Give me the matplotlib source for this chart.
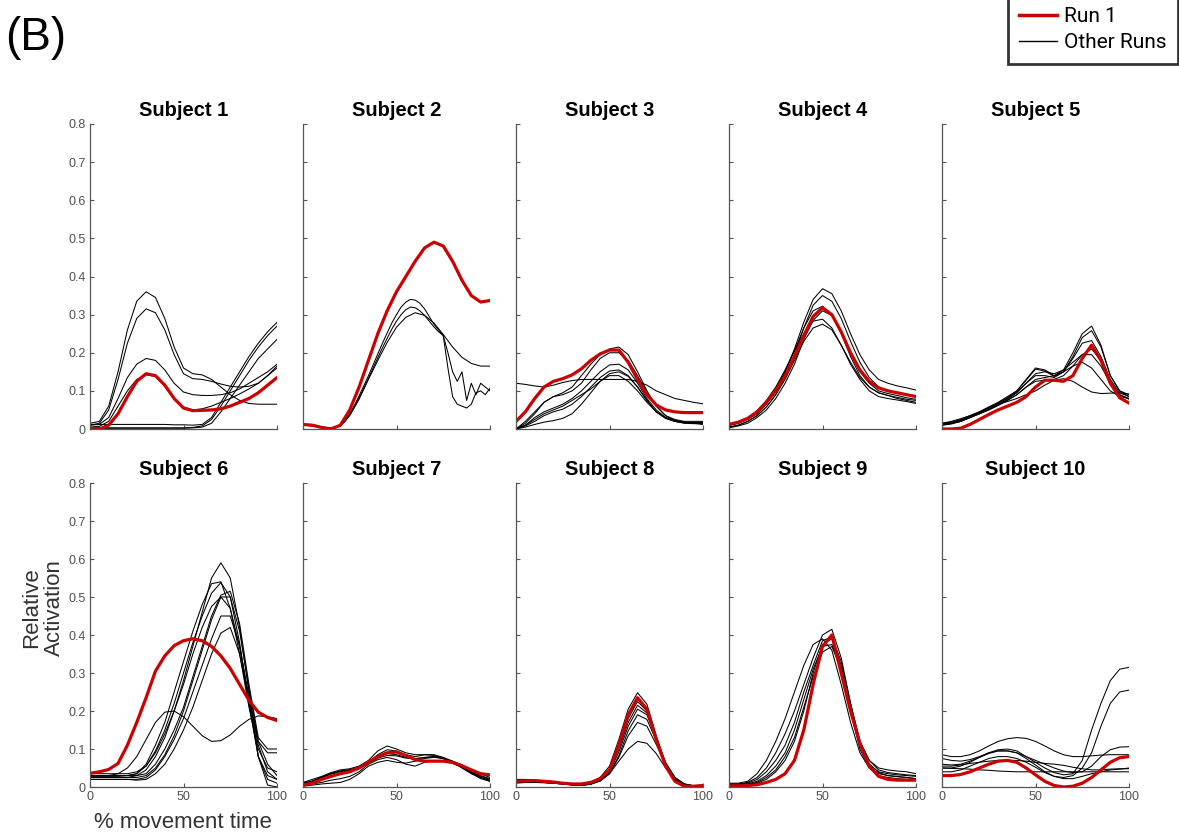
import numpy as np
import matplotlib
matplotlib.use("Agg")
import matplotlib.pyplot as plt
from matplotlib.lines import Line2D

plt.rcParams['font.family'] = ['Liberation Sans', 'DejaVu Sans']

# values read at 0, 5, ..., 100 % movement time (41-point rows use 2.5 steps)
s1_red = [0.0, 0.0, 0.01, 0.04, 0.085, 0.125, 0.145, 0.14, 0.115, 0.08, 0.055, 0.048, 0.049, 0.05, 0.053, 0.06, 0.07, 0.08, 0.095, 0.115, 0.135]
s1_runs = [
    [0.015, 0.02, 0.06, 0.15, 0.26, 0.335, 0.36, 0.345, 0.29, 0.215, 0.16, 0.145, 0.142, 0.13, 0.11, 0.09, 0.075, 0.067, 0.065, 0.065, 0.065],
    [0.01, 0.015, 0.05, 0.13, 0.225, 0.29, 0.315, 0.305, 0.26, 0.195, 0.145, 0.132, 0.13, 0.125, 0.118, 0.112, 0.11, 0.112, 0.12, 0.14, 0.165],
    [0.01, 0.012, 0.03, 0.08, 0.135, 0.17, 0.185, 0.18, 0.155, 0.12, 0.097, 0.09, 0.088, 0.088, 0.09, 0.095, 0.105, 0.12, 0.135, 0.15, 0.17],
    [0.005, 0.007, 0.02, 0.06, 0.1, 0.13, 0.142, 0.138, 0.112, 0.08, 0.058, 0.05, 0.053, 0.06, 0.07, 0.08, 0.092, 0.105, 0.12, 0.14, 0.16],
    [0.012, 0.012, 0.012, 0.012, 0.012, 0.012, 0.012, 0.012, 0.012, 0.011, 0.011, 0.01, 0.012, 0.03, 0.07, 0.11, 0.15, 0.19, 0.225, 0.255, 0.28],
    [0.003, 0.003, 0.003, 0.003, 0.003, 0.003, 0.003, 0.003, 0.003, 0.003, 0.003, 0.004, 0.008, 0.025, 0.06, 0.1, 0.14, 0.18, 0.215, 0.245, 0.27],
    [0.002, 0.002, 0.002, 0.002, 0.002, 0.002, 0.002, 0.002, 0.002, 0.002, 0.002, 0.003, 0.005, 0.015, 0.045, 0.08, 0.115, 0.15, 0.185, 0.21, 0.235],
]

s2_red = [0.012, 0.01, 0.004, 0.0, 0.01, 0.05, 0.11, 0.18, 0.25, 0.31, 0.36, 0.4, 0.44, 0.475, 0.49, 0.48, 0.44, 0.39, 0.35, 0.333, 0.337]
s2_runs = [
    [0.012, 0.01, 0.005, 0.003, 0.008, 0.035, 0.078, 0.13, 0.18, 0.227, 0.267, 0.293, 0.305, 0.298, 0.278, 0.248, 0.215, 0.188, 0.172, 0.165, 0.165],
    [0.01, 0.009, 0.008, 0.007, 0.005, 0.004, 0.003, 0.005, 0.01, 0.022, 0.04, 0.062, 0.087, 0.113, 0.14, 0.168, 0.197, 0.225, 0.252, 0.278,
     0.3, 0.32, 0.333, 0.34, 0.338, 0.33, 0.315, 0.295, 0.275, 0.26, 0.245, 0.16, 0.085, 0.065, 0.06, 0.055, 0.065, 0.095, 0.1, 0.09, 0.107],
    [0.012, 0.01, 0.008, 0.006, 0.004, 0.003, 0.003, 0.004, 0.009, 0.02, 0.037, 0.058, 0.082, 0.107, 0.133, 0.16, 0.187, 0.213, 0.238, 0.262,
     0.283, 0.3, 0.313, 0.32, 0.318, 0.31, 0.298, 0.283, 0.268, 0.255, 0.245, 0.2, 0.15, 0.125, 0.15, 0.075, 0.12, 0.09, 0.12, 0.11, 0.1],
]

s3_red = [0.02, 0.045, 0.08, 0.11, 0.125, 0.132, 0.142, 0.158, 0.18, 0.197, 0.207, 0.207, 0.175, 0.13, 0.09, 0.063, 0.05, 0.045, 0.043, 0.043, 0.043]
s3_runs = [
    [0.12, 0.117, 0.113, 0.11, 0.115, 0.122, 0.127, 0.13, 0.13, 0.13, 0.13, 0.13, 0.13, 0.125, 0.115, 0.1, 0.09, 0.08, 0.075, 0.07, 0.066],
    [0.0, 0.02, 0.045, 0.07, 0.085, 0.095, 0.11, 0.14, 0.17, 0.195, 0.21, 0.215, 0.195, 0.15, 0.1, 0.06, 0.035, 0.022, 0.018, 0.017, 0.017],
    [0.0, 0.01, 0.03, 0.045, 0.055, 0.065, 0.08, 0.1, 0.125, 0.15, 0.168, 0.17, 0.155, 0.12, 0.08, 0.05, 0.03, 0.02, 0.015, 0.014, 0.014],
    [0.0, 0.008, 0.02, 0.035, 0.045, 0.052, 0.065, 0.085, 0.11, 0.135, 0.152, 0.155, 0.14, 0.11, 0.075, 0.045, 0.028, 0.02, 0.016, 0.015, 0.015],
    [0.0, 0.005, 0.012, 0.018, 0.022, 0.028, 0.04, 0.065, 0.095, 0.125, 0.145, 0.15, 0.138, 0.11, 0.075, 0.045, 0.028, 0.02, 0.017, 0.015, 0.015],
    [0.0, 0.015, 0.04, 0.07, 0.085, 0.09, 0.1, 0.12, 0.155, 0.185, 0.2, 0.2, 0.18, 0.14, 0.095, 0.06, 0.035, 0.025, 0.02, 0.02, 0.02],
    [0.0, 0.01, 0.025, 0.04, 0.05, 0.06, 0.075, 0.09, 0.105, 0.125, 0.14, 0.14, 0.125, 0.1, 0.07, 0.045, 0.03, 0.022, 0.018, 0.015, 0.012],
]

s4_red = [0.012, 0.018, 0.028, 0.045, 0.07, 0.1, 0.14, 0.19, 0.245, 0.295, 0.318, 0.3, 0.255, 0.2, 0.155, 0.125, 0.108, 0.1, 0.095, 0.09, 0.085]
s4_runs = [
    [0.01, 0.015, 0.025, 0.04, 0.065, 0.1, 0.15, 0.21, 0.28, 0.34, 0.368, 0.355, 0.31, 0.25, 0.195, 0.155, 0.13, 0.12, 0.113, 0.108, 0.102],
    [0.005, 0.01, 0.02, 0.035, 0.058, 0.09, 0.135, 0.195, 0.265, 0.325, 0.35, 0.335, 0.29, 0.23, 0.175, 0.135, 0.11, 0.1, 0.095, 0.09, 0.087],
    [0.01, 0.016, 0.027, 0.045, 0.07, 0.105, 0.15, 0.205, 0.265, 0.31, 0.322, 0.3, 0.25, 0.19, 0.14, 0.11, 0.095, 0.088, 0.08, 0.075, 0.07],
    [0.003, 0.008, 0.015, 0.03, 0.05, 0.08, 0.12, 0.17, 0.235, 0.285, 0.31, 0.298, 0.255, 0.2, 0.15, 0.12, 0.1, 0.093, 0.088, 0.082, 0.078],
    [0.01, 0.015, 0.028, 0.048, 0.075, 0.11, 0.155, 0.205, 0.25, 0.283, 0.288, 0.265, 0.22, 0.17, 0.13, 0.1, 0.085, 0.08, 0.076, 0.072, 0.067],
    [0.005, 0.01, 0.02, 0.035, 0.058, 0.09, 0.13, 0.18, 0.23, 0.265, 0.275, 0.26, 0.22, 0.175, 0.135, 0.11, 0.095, 0.088, 0.083, 0.078, 0.075],
]

s5_red = [0.0, 0.0, 0.002, 0.012, 0.025, 0.038, 0.05, 0.06, 0.07, 0.085, 0.11, 0.128, 0.128, 0.125, 0.14, 0.185, 0.22, 0.18, 0.12, 0.082, 0.068]
s5_runs = [
    [0.015, 0.018, 0.025, 0.035, 0.045, 0.058, 0.07, 0.085, 0.1, 0.13, 0.16, 0.155, 0.14, 0.155, 0.2, 0.25, 0.27, 0.22, 0.14, 0.1, 0.085],
    [0.01, 0.015, 0.022, 0.032, 0.043, 0.055, 0.068, 0.082, 0.1, 0.128, 0.157, 0.152, 0.138, 0.15, 0.19, 0.24, 0.258, 0.215, 0.14, 0.1, 0.09],
    [0.012, 0.016, 0.023, 0.033, 0.044, 0.056, 0.068, 0.08, 0.097, 0.12, 0.14, 0.14, 0.135, 0.15, 0.185, 0.225, 0.232, 0.19, 0.13, 0.095, 0.085],
    [0.01, 0.013, 0.02, 0.03, 0.04, 0.052, 0.064, 0.078, 0.095, 0.12, 0.145, 0.15, 0.145, 0.155, 0.175, 0.195, 0.195, 0.165, 0.12, 0.09, 0.08],
    [0.012, 0.015, 0.02, 0.03, 0.04, 0.05, 0.062, 0.075, 0.09, 0.11, 0.13, 0.135, 0.14, 0.15, 0.165, 0.175, 0.16, 0.13, 0.1, 0.085, 0.08],
    [0.015, 0.02, 0.027, 0.035, 0.045, 0.055, 0.065, 0.072, 0.08, 0.09, 0.1, 0.115, 0.128, 0.132, 0.125, 0.11, 0.097, 0.093, 0.094, 0.095, 0.092],
    [0.012, 0.015, 0.02, 0.03, 0.04, 0.05, 0.062, 0.075, 0.09, 0.11, 0.125, 0.128, 0.13, 0.14, 0.165, 0.195, 0.21, 0.18, 0.125, 0.09, 0.078],
]

s6_red = [0.036, 0.04, 0.046, 0.062, 0.11, 0.17, 0.235, 0.305, 0.345, 0.372, 0.385, 0.39, 0.385, 0.37, 0.345, 0.312, 0.27, 0.228, 0.197, 0.183, 0.175]
s6_runs = [
    [0.025, 0.025, 0.025, 0.025, 0.025, 0.03, 0.045, 0.08, 0.13, 0.2, 0.28, 0.37, 0.46, 0.55, 0.59, 0.55, 0.42, 0.25, 0.08, 0.005, 0.0],
    [0.03, 0.03, 0.03, 0.03, 0.03, 0.035, 0.06, 0.11, 0.17, 0.25, 0.33, 0.41, 0.48, 0.535, 0.54, 0.47, 0.35, 0.21, 0.1, 0.05, 0.04],
    [0.028, 0.028, 0.028, 0.028, 0.03, 0.035, 0.055, 0.095, 0.15, 0.22, 0.3, 0.38, 0.45, 0.51, 0.538, 0.5, 0.38, 0.22, 0.08, 0.02, 0.01],
    [0.03, 0.03, 0.03, 0.03, 0.03, 0.03, 0.035, 0.06, 0.1, 0.15, 0.21, 0.29, 0.37, 0.45, 0.505, 0.515, 0.43, 0.27, 0.13, 0.1, 0.1],
    [0.025, 0.025, 0.025, 0.025, 0.025, 0.025, 0.03, 0.05, 0.085, 0.135, 0.2, 0.28, 0.36, 0.44, 0.5, 0.5, 0.41, 0.26, 0.12, 0.09, 0.09],
    [0.035, 0.035, 0.035, 0.035, 0.035, 0.04, 0.055, 0.09, 0.14, 0.2, 0.27, 0.35, 0.42, 0.475, 0.5, 0.47, 0.37, 0.22, 0.08, 0.03, 0.02],
    [0.02, 0.02, 0.02, 0.02, 0.02, 0.02, 0.025, 0.045, 0.08, 0.125, 0.18, 0.25, 0.32, 0.39, 0.45, 0.45, 0.37, 0.24, 0.12, 0.06, 0.03],
    [0.02, 0.02, 0.02, 0.02, 0.02, 0.018, 0.02, 0.035, 0.06, 0.1, 0.15, 0.21, 0.28, 0.35, 0.405, 0.42, 0.35, 0.23, 0.11, 0.04, 0.02],
    [0.03, 0.03, 0.03, 0.035, 0.05, 0.08, 0.125, 0.17, 0.197, 0.2, 0.185, 0.16, 0.135, 0.12, 0.122, 0.137, 0.16, 0.178, 0.187, 0.185, 0.18],
]

s7_red = [0.005, 0.01, 0.02, 0.028, 0.035, 0.04, 0.05, 0.065, 0.08, 0.09, 0.092, 0.083, 0.072, 0.068, 0.068, 0.068, 0.065, 0.056, 0.045, 0.035, 0.032]
s7_runs = [
    [0.012, 0.02, 0.028, 0.038, 0.045, 0.048, 0.055, 0.07, 0.095, 0.108, 0.1, 0.09, 0.085, 0.085, 0.083, 0.075, 0.065, 0.05, 0.035, 0.025, 0.018],
    [0.01, 0.015, 0.025, 0.035, 0.042, 0.045, 0.052, 0.065, 0.085, 0.098, 0.095, 0.085, 0.08, 0.085, 0.085, 0.078, 0.068, 0.055, 0.04, 0.028, 0.02],
    [0.005, 0.008, 0.012, 0.018, 0.022, 0.028, 0.04, 0.06, 0.072, 0.078, 0.072, 0.06, 0.055, 0.065, 0.07, 0.068, 0.062, 0.052, 0.04, 0.03, 0.022],
    [0.002, 0.005, 0.008, 0.01, 0.012, 0.02, 0.035, 0.055, 0.065, 0.07, 0.065, 0.063, 0.068, 0.075, 0.078, 0.075, 0.068, 0.058, 0.045, 0.035, 0.025],
    [0.008, 0.015, 0.025, 0.035, 0.042, 0.045, 0.05, 0.065, 0.08, 0.088, 0.085, 0.078, 0.075, 0.078, 0.08, 0.075, 0.065, 0.052, 0.038, 0.025, 0.015],
    [0.01, 0.016, 0.026, 0.034, 0.04, 0.044, 0.05, 0.062, 0.076, 0.083, 0.082, 0.076, 0.074, 0.077, 0.08, 0.076, 0.066, 0.052, 0.036, 0.022, 0.015],
]

s8_red = [0.015, 0.016, 0.017, 0.015, 0.013, 0.01, 0.008, 0.008, 0.012, 0.022, 0.045, 0.11, 0.19, 0.235, 0.205, 0.125, 0.055, 0.015, 0.002, 0.002, 0.004]
s8_runs = [
    [0.012, 0.014, 0.015, 0.013, 0.011, 0.009, 0.006, 0.006, 0.01, 0.025, 0.055, 0.125, 0.205, 0.248, 0.218, 0.135, 0.06, 0.018, 0.004, 0.001, 0.001],
    [0.018, 0.018, 0.016, 0.014, 0.012, 0.01, 0.007, 0.006, 0.01, 0.02, 0.045, 0.105, 0.18, 0.225, 0.2, 0.128, 0.058, 0.02, 0.005, 0.002, 0.002],
    [0.01, 0.012, 0.013, 0.012, 0.01, 0.008, 0.006, 0.005, 0.009, 0.02, 0.045, 0.1, 0.17, 0.215, 0.195, 0.128, 0.06, 0.022, 0.006, 0.002, 0.002],
    [0.02, 0.02, 0.018, 0.016, 0.013, 0.01, 0.006, 0.004, 0.008, 0.018, 0.04, 0.092, 0.16, 0.205, 0.19, 0.13, 0.065, 0.025, 0.007, 0.002, 0.002],
    [0.012, 0.013, 0.013, 0.012, 0.01, 0.008, 0.006, 0.005, 0.008, 0.016, 0.036, 0.082, 0.148, 0.19, 0.178, 0.122, 0.062, 0.025, 0.008, 0.003, 0.003],
    [0.015, 0.015, 0.014, 0.013, 0.011, 0.008, 0.005, 0.004, 0.007, 0.016, 0.035, 0.078, 0.135, 0.17, 0.16, 0.112, 0.058, 0.024, 0.008, 0.003, 0.003],
    [0.013, 0.013, 0.012, 0.011, 0.01, 0.008, 0.006, 0.005, 0.008, 0.016, 0.035, 0.068, 0.1, 0.12, 0.115, 0.088, 0.05, 0.022, 0.008, 0.003, 0.002],
]

s9_red = [0.003, 0.003, 0.004, 0.006, 0.012, 0.02, 0.035, 0.07, 0.15, 0.27, 0.37, 0.4, 0.3, 0.2, 0.115, 0.055, 0.028, 0.02, 0.018, 0.018, 0.018]
s9_runs = [
    [0.01, 0.01, 0.015, 0.035, 0.07, 0.12, 0.18, 0.25, 0.32, 0.375, 0.39, 0.36, 0.27, 0.17, 0.09, 0.05, 0.035, 0.03, 0.028, 0.025, 0.022],
    [0.008, 0.008, 0.012, 0.025, 0.05, 0.09, 0.14, 0.2, 0.27, 0.34, 0.4, 0.415, 0.34, 0.22, 0.12, 0.07, 0.05, 0.045, 0.042, 0.04, 0.035],
    [0.005, 0.006, 0.01, 0.02, 0.04, 0.07, 0.11, 0.17, 0.25, 0.32, 0.385, 0.395, 0.33, 0.22, 0.12, 0.07, 0.045, 0.038, 0.035, 0.032, 0.03],
    [0.005, 0.006, 0.008, 0.015, 0.03, 0.055, 0.09, 0.15, 0.23, 0.31, 0.37, 0.375, 0.31, 0.2, 0.11, 0.06, 0.04, 0.035, 0.032, 0.03, 0.028],
    [0.005, 0.005, 0.007, 0.012, 0.025, 0.045, 0.08, 0.13, 0.21, 0.29, 0.355, 0.37, 0.31, 0.2, 0.11, 0.06, 0.038, 0.03, 0.027, 0.025, 0.022],
    [0.004, 0.004, 0.006, 0.01, 0.02, 0.04, 0.07, 0.12, 0.2, 0.3, 0.375, 0.39, 0.32, 0.2, 0.1, 0.05, 0.03, 0.025, 0.022, 0.02, 0.02],
]

s10_red = [0.03, 0.03, 0.033, 0.04, 0.05, 0.06, 0.068, 0.07, 0.065, 0.05, 0.032, 0.015, 0.004, 0.0, 0.002, 0.01, 0.025, 0.045, 0.065, 0.077, 0.08]
s10_runs = [
    [0.05, 0.05, 0.055, 0.065, 0.078, 0.09, 0.098, 0.1, 0.095, 0.08, 0.065, 0.05, 0.038, 0.032, 0.035, 0.07, 0.15, 0.22, 0.28, 0.31, 0.315],
    [0.06, 0.058, 0.06, 0.068, 0.078, 0.088, 0.095, 0.095, 0.09, 0.075, 0.058, 0.04, 0.028, 0.025, 0.03, 0.05, 0.09, 0.16, 0.22, 0.25, 0.255],
    [0.085, 0.08, 0.08, 0.085, 0.095, 0.108, 0.12, 0.127, 0.13, 0.128, 0.12, 0.108, 0.095, 0.085, 0.08, 0.08, 0.082, 0.084, 0.085, 0.085, 0.085],
    [0.075, 0.07, 0.068, 0.072, 0.08, 0.09, 0.095, 0.095, 0.09, 0.08, 0.07, 0.06, 0.05, 0.042, 0.038, 0.04, 0.055, 0.08, 0.098, 0.105, 0.106],
    [0.05, 0.049, 0.048, 0.047, 0.045, 0.044, 0.042, 0.041, 0.04, 0.04, 0.04, 0.04, 0.04, 0.04, 0.04, 0.04, 0.04, 0.04, 0.04, 0.04, 0.04],
    [0.055, 0.055, 0.058, 0.062, 0.065, 0.068, 0.07, 0.07, 0.07, 0.068, 0.065, 0.062, 0.06, 0.057, 0.052, 0.048, 0.045, 0.045, 0.047, 0.048, 0.048],
    [0.04, 0.04, 0.045, 0.055, 0.065, 0.075, 0.08, 0.08, 0.075, 0.065, 0.052, 0.038, 0.028, 0.022, 0.022, 0.028, 0.035, 0.04, 0.045, 0.047, 0.05],
]

subjects = ["Subject %d" % i for i in range(1, 11)]
red_runs = [s1_red, s2_red, s3_red, s4_red, s5_red, s6_red, s7_red, s8_red, s9_red, s10_red]
other_runs = [s1_runs, s2_runs, s3_runs, s4_runs, s5_runs, s6_runs, s7_runs, s8_runs, s9_runs, s10_runs]

RED = '#cc0000'
AX_COLOR = '#555555'

fig = plt.figure(figsize=(11.79, 8.34), dpi=100)
W, H = 1179.0, 834.0
lefts = [90, 303, 516, 729, 942]
rows = [(124, 429), (483, 787)]
axw = 187

for i, name in enumerate(subjects):
    r, c = divmod(i, 5)
    top, bot = rows[r]
    ax = fig.add_axes([lefts[c] / W, 1 - bot / H, axw / W, (bot - top) / H])
    for y in other_runs[i]:
        x = np.linspace(0, 100, len(y))
        ax.plot(x, y, color='black', lw=0.75)
    ax.plot(np.linspace(0, 100, len(red_runs[i])), red_runs[i], color=RED, lw=2.3)

    ax.set_xlim(0, 100)
    ax.set_ylim(0, 0.8)
    ax.set_yticks(np.arange(0, 0.81, 0.1))
    ax.set_xticks([0, 50, 100])
    for s in ['top', 'right']:
        ax.spines[s].set_visible(False)
    for s in ['left', 'bottom']:
        ax.spines[s].set_color(AX_COLOR)
        ax.spines[s].set_linewidth(0.9)
    ax.tick_params(direction='in', length=3, width=0.8, color=AX_COLOR,
                   labelcolor='#505050', labelsize=9, pad=3)
    if c == 0:
        ax.set_yticklabels(['0', '0.1', '0.2', '0.3', '0.4', '0.5', '0.6', '0.7', '0.8'])
    else:
        ax.set_yticklabels([])
    if r == 0:
        ax.set_xticklabels([])
    ax.set_title(name, fontsize=14.5, fontweight='bold', pad=6)

fig.text(43 / W, 1 - 608 / H, "Relative\nActivation", rotation=90, ha='center', va='center',
         fontsize=16, color='#333333', multialignment='center', linespacing=1.1)
fig.text(183 / W, 1 - 822 / H, "% movement time", ha='center', va='center',
         fontsize=16, color='#333333')
fig.text(5 / W, 1 - 38 / H, "(B)", ha='left', va='center', fontsize=33, color='black')

handles = [Line2D([], [], color=RED, lw=2.5), Line2D([], [], color='black', lw=1)]
leg = fig.legend(handles, ["Run 1", "Other Runs"], loc='lower right',
                 bbox_to_anchor=(1.0, 1 - 65 / H), frameon=True, fancybox=False,
                 prop={'family': 'Roboto', 'size': 15}, handlelength=1.8,
                 handletextpad=0.35, labelspacing=0.35, borderpad=0.55,
                 borderaxespad=0.05)
leg.get_frame().set_edgecolor('black')
leg.get_frame().set_linewidth(2)

fig.savefig("out.png", dpi=100)
